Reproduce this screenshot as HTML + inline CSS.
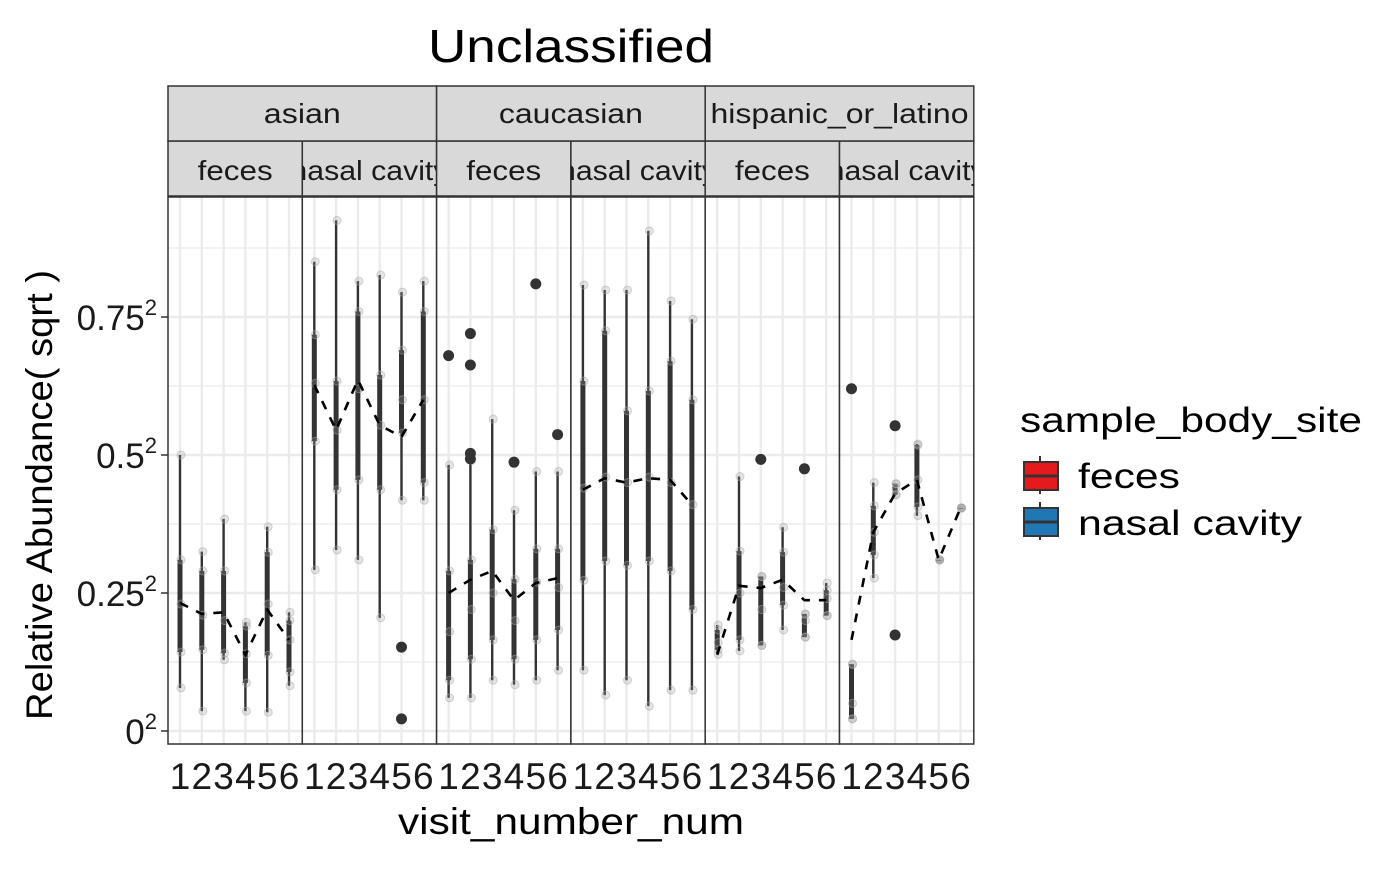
<!DOCTYPE html>
<html><head><meta charset="utf-8"><style>
body{margin:0;background:#fff}
svg text{font-family:"Liberation Sans",sans-serif}
</style></head><body>
<svg id="chart" width="1400" height="866" viewBox="0 0 1400 866">
<rect x="0" y="0" width="1400" height="866" fill="#fff"/>
<text x="428" y="62" font-size="46" textLength="286" lengthAdjust="spacingAndGlyphs">Unclassified</text>
<g id="panels"></g>
<text x="398" y="834" font-size="37" textLength="346" lengthAdjust="spacingAndGlyphs">visit_number_num</text>
<text transform="translate(52,720) rotate(-90)" font-size="37" textLength="450" lengthAdjust="spacingAndGlyphs">Relative Abundance( sqrt )</text>
<g>
<text x="1020" y="432" font-size="35" textLength="342" lengthAdjust="spacingAndGlyphs">sample_body_site</text>
<g>
<line x1="1040" y1="456" x2="1040" y2="494" stroke="#333" stroke-width="2"/>
<rect x="1024" y="462" width="34" height="28" fill="#e41a1c" stroke="#333" stroke-width="2"/>
<line x1="1024" y1="476" x2="1058" y2="476" stroke="#333" stroke-width="3"/>
<text x="1078" y="488" font-size="35" textLength="102" lengthAdjust="spacingAndGlyphs">feces</text></g>
<g>
<line x1="1040" y1="502" x2="1040" y2="540" stroke="#333" stroke-width="2"/>
<rect x="1024" y="508" width="34" height="28" fill="#1f78b4" stroke="#333" stroke-width="2"/>
<line x1="1024" y1="522" x2="1058" y2="522" stroke="#333" stroke-width="3"/>
<text x="1078" y="535" font-size="35" textLength="224" lengthAdjust="spacingAndGlyphs">nasal cavity</text></g>
</g>
</svg>
<script>
// boxplot stats per panel, per visit: [low whisker, q1, median, q3, high whisker] in sqrt units
const groups = ["asian","caucasian","hispanic_or_latino"];
const sites = ["feces","nasal cavity"];
const visits = [1,2,3,4,5,6];
const yTicks = [0,0.25,0.5,0.75];
const yTickLabels = ["0","0.25","0.5","0.75"];
const boxes = [
 [[0.078,0.143,0.23,0.31,0.5],[0.036,0.147,0.21,0.29,0.325],[0.129,0.141,0.2,0.29,0.384],[0.036,0.087,0.14,0.19,0.197],[0.034,0.137,0.23,0.324,0.37],[0.082,0.107,0.165,0.2,0.215]],
 [[0.292,0.525,0.63,0.718,0.85],[0.328,0.437,0.545,0.634,0.925],[0.31,0.455,0.62,0.76,0.815],[0.205,0.437,0.554,0.645,0.826],[0.418,0.54,0.6,0.69,0.795],[0.418,0.45,0.6,0.76,0.815]],
 [[0.06,0.092,0.18,0.29,0.482],[0.06,0.13,0.22,0.31,0.49],[0.092,0.165,0.25,0.365,0.565],[0.084,0.13,0.2,0.275,0.4],[0.092,0.165,0.27,0.33,0.47],[0.11,0.183,0.26,0.33,0.47]],
 [[0.11,0.273,0.44,0.634,0.808],[0.065,0.308,0.46,0.725,0.799],[0.092,0.3,0.45,0.58,0.799],[0.045,0.308,0.46,0.616,0.906],[0.074,0.29,0.45,0.67,0.779],[0.074,0.22,0.41,0.6,0.746]],
 [[0.139,0.147,0.16,0.183,0.192],[0.145,0.165,0.25,0.326,0.461],[0.155,0.155,0.22,0.28,0.28],[0.183,0.228,0.26,0.324,0.369],[0.17,0.17,0.2,0.212,0.212],[0.209,0.209,0.24,0.255,0.268]],
 [[0.022,0.022,0.05,0.121,0.121],[0.277,0.319,0.36,0.408,0.45],[0.428,0.428,0.44,0.448,0.448],[0.39,0.406,0.455,0.518,0.52],[0.31,0.31,0.31,0.31,0.31],[0.404,0.404,0.404,0.404,0.404]]
];
const trend = [
 [0.232,0.212,0.215,0.138,0.22,0.165],
 [0.627,0.545,0.636,0.554,0.533,0.6],
 [0.25,0.274,0.29,0.237,0.268,0.277],
 [0.437,0.458,0.45,0.458,0.455,0.41],
 [0.138,0.263,0.259,0.274,0.237,0.237],
 [0.165,0.36,0.43,0.455,0.31,0.404]
];
// outliers: [panel, visit, value]
const outliers = [[1,5,0.152],[1,5,0.022],[2,1,0.68],[2,2,0.72],[2,2,0.663],[2,2,0.503],[2,2,0.493],[2,4,0.487],[2,5,0.81],[2,6,0.537],[4,3,0.492],[4,5,0.475],[5,1,0.62],[5,3,0.553],[5,3,0.174]];

const P0=168, PW=134.3, TOP=197, BOT=744;
function yS(s){return 731 - s*552;}
function xS(p,v){return P0 + p*PW + 12 + (v-1)*21.8;}
const NS='http://www.w3.org/2000/svg';
const root=document.getElementById('panels');
function mk(tag,attrs,parent){const e=document.createElementNS(NS,tag);for(const k in attrs)e.setAttribute(k,attrs[k]);(parent||root).appendChild(e);return e;}
const stripW={"asian":77,"caucasian":144,"hispanic_or_latino":258};

for(let p=0;p<6;p++){
  const g=mk('g',{});
  
  
  const L=P0+p*PW;
  mk('rect',{x:L,y:TOP,width:PW,height:BOT-TOP,fill:'#fff'},g);
  for(let i=0;i<8;i++){const s=i*0.125; const y=yS(s); if(y<TOP)continue;
    mk('line',{x1:L,x2:L+PW,y1:y,y2:y,stroke:'#ebebeb','stroke-width':i%2?1.2:2.4},g);}
  visits.forEach(v=>{mk('line',{x1:xS(p,v),x2:xS(p,v),y1:TOP,y2:BOT,stroke:'#ebebeb','stroke-width':2.4},g);});
  boxes[p].forEach((b,i)=>{const x=xS(p,visits[i]);
    const bg=mk('g',{},g);
    
    
    mk('line',{x1:x,x2:x,y1:yS(b[0]),y2:yS(b[4]),stroke:'#333','stroke-width':2.4},bg);
    mk('rect',{x:x-2.5,y:yS(b[3]),width:5,height:Math.max(1,yS(b[1])-yS(b[3])),fill:'#333'},bg);
    [b[0],b[1],b[2],b[3],b[4]].forEach(s=>{mk('circle',{cx:x+1,cy:yS(s),r:4,fill:'#999','fill-opacity':0.25,stroke:'#aaa','stroke-opacity':0.5},bg);});
  });
  const pts=trend[p].map((s,i)=>xS(p,visits[i])+','+yS(s)).join(' ');
  const tl=mk('polyline',{points:pts,fill:'none',stroke:'#000','stroke-width':2.6,'stroke-dasharray':'9 9'},g);
  
  
  mk('rect',{x:L,y:TOP,width:PW,height:BOT-TOP,fill:'none',stroke:'#333','stroke-width':1.5},g);
  const cp=mk('clipPath',{id:'c'+p},g); mk('rect',{x:L,y:141,width:PW,height:55},cp);
  const st=mk('g',{},g);
  
  
  mk('rect',{x:L,y:141,width:PW,height:55,fill:'#d9d9d9',stroke:'#333','stroke-width':1.5},st);
  const w=p%2?158:75;
  const t=mk('text',{x:L+PW/2-w/2,y:180,'font-size':28,textLength:w,lengthAdjust:'spacingAndGlyphs','clip-path':'url(#c'+p+')',fill:'#1a1a1a'},st);
  t.textContent=sites[p%2];
  visits.forEach(v=>{const tx=mk('text',{x:xS(p,v),y:789,'font-size':37,'text-anchor':'middle',fill:'#1a1a1a'},g);tx.textContent=v;
    
    });
}
outliers.forEach(o=>{const c=mk('circle',{cx:xS(o[0],o[1]),cy:yS(o[2]),r:5.5,fill:'#333'});
  
  });
groups.forEach((gname,i)=>{const L=P0+i*2*PW;
  const sg=mk('g',{});
  
  
  mk('rect',{x:L,y:86,width:2*PW,height:55,fill:'#d9d9d9',stroke:'#333','stroke-width':1.5},sg);
  const w=stripW[gname];
  const t=mk('text',{x:L+PW-w/2,y:123,'font-size':28,textLength:w,lengthAdjust:'spacingAndGlyphs',fill:'#1a1a1a'},sg);t.textContent=gname;});
yTicks.forEach((s,i)=>{const y=yS(s);
  mk('line',{x1:161,x2:168,y1:y,y2:y,stroke:'#333','stroke-width':1.5});
  const t=mk('text',{x:157,y:y+13,'font-size':35,'text-anchor':'end',fill:'#1a1a1a'});
  
  
  t.textContent=yTickLabels[i];
  const sup=document.createElementNS(NS,'tspan');sup.setAttribute('font-size','22');sup.setAttribute('dy','-15');sup.textContent='2';t.appendChild(sup);
});
</script>
</body></html>
